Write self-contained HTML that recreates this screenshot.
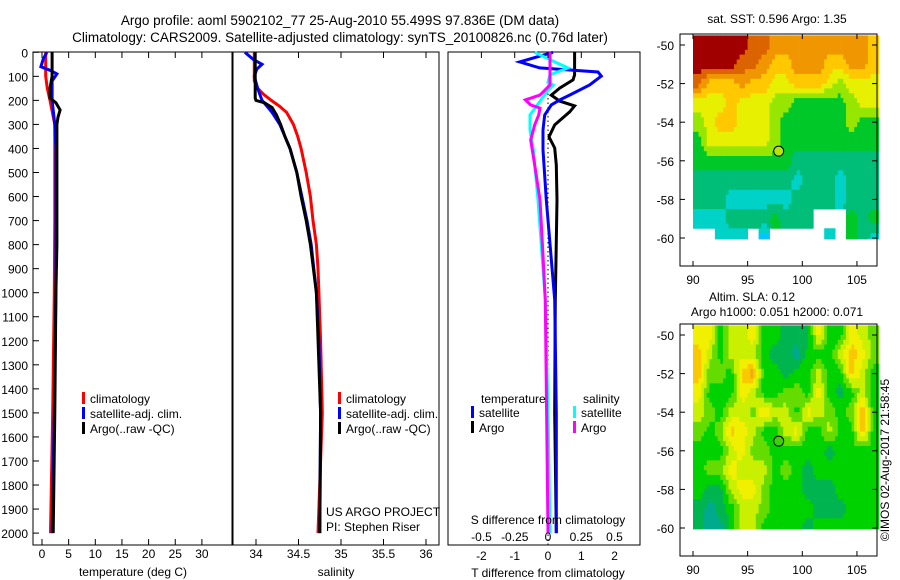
<!DOCTYPE html>
<html><head><meta charset="utf-8"><style>
body{margin:0;background:#fff}
svg{display:block;font-family:"Liberation Sans",sans-serif}
</style></head><body>
<svg id="c" width="900" height="580" viewBox="0 0 900 580" xmlns="http://www.w3.org/2000/svg">
<text x="340" y="25" font-size="13.5" text-anchor="middle">Argo profile: aoml 5902102_77 25-Aug-2010 55.499S 97.836E (DM data)</text>
<text x="340" y="42" font-size="13.5" text-anchor="middle">Climatology: CARS2009. Satellite-adjusted climatology: synTS_20100826.nc (0.76d later)</text>
<g id="g"></g>
</svg>
<script>
// ---- Temperature panel data (deg C) ----
const tClimDepth=[0,100,150,200,300,400,700,1000,1500,2000];
const tClim=[0.7,0.7,1.0,1.5,2.4,2.4,2.4,2.3,2.0,1.6];
const tSatDepth=[0,30,60,75,90,120,200,260,300,400,1000,1500,2000];
const tSat=[0.9,0.2,-0.2,1.5,2.8,1.9,1.9,2.2,2.4,2.6,2.6,2.3,1.9];
const tArgoDepth=[0,100,150,190,210,240,270,300,400,800,1000,1500,2000];
const tArgo=[1.9,1.9,1.5,1.5,2.6,3.4,3.0,2.8,2.8,2.8,2.6,2.4,2.1];
// ---- Salinity panel data ----
const sClimDepth=[0,120,150,175,200,225,250,300,350,400,500,600,700,800,900,1000,1200,1500,2000];
const sClim=[33.98,33.98,34.02,34.09,34.18,34.28,34.36,34.44,34.49,34.53,34.59,34.64,34.67,34.71,34.73,34.74,34.76,34.78,34.73];
const sSatDepth=[0,30,50,70,100,150,200,225,250,300,350,400,500,600,700,800,900,1000,1200,1500,2000];
const sSat=[33.87,33.97,34.07,34.01,33.98,34.02,34.07,34.13,34.19,34.28,34.34,34.40,34.48,34.54,34.60,34.65,34.68,34.71,34.74,34.76,34.75];
const sArgoDepth=[0,190,200,210,230,260,300,350,400,500,600,700,800,1000,1500,2000];
const sArgo=[33.99,33.99,34.00,34.10,34.19,34.24,34.29,34.34,34.40,34.48,34.53,34.59,34.64,34.71,34.76,34.75];
// ---- Difference panel data ----
const dTSatDepth=[0,40,65,82,99,136,178,198,219,261,323,406,614,1030,1500,2000];
const dTSat=[0.15,-0.85,-0.25,1.5,1.6,1.25,0.65,0.35,0.1,-0.1,-0.15,-0.15,-0.05,0.2,0.25,0.25];
const dTArgoDepth=[0,94,115,149,178,203,223,248,302,352,398,469,614,1030,1500,2000];
const dTArgo=[0.8,0.8,0.75,0.35,0.1,0.35,0.8,0.65,0.2,0.03,0.2,0.25,0.27,0.22,0.2,0.25];
const dSSatDepth=[0,40,65,94,124,136,165,219,261,323,406,614,1030,1500,2000];
const dSSat=[-0.1,0.05,0.15,0.015,0,0.04,-0.01,-0.08,-0.135,-0.135,-0.11,-0.075,-0.02,0,0.015];
const dSArgoDepth=[0,136,178,198,219,232,261,302,365,469,614,822,1030,2000];
const dSArgo=[0.015,0.015,-0.06,-0.17,-0.13,-0.06,-0.07,-0.1,-0.13,-0.1,-0.06,-0.04,-0.02,0];
// ---- Tick labels ----
const depthTicks=[0,100,200,300,400,500,600,700,800,900,1000,1100,1200,1300,1400,1500,1600,1700,1800,1900,2000];
const tTicks=[0,5,10,15,20,25,30];
const sTicks=[34,34.5,35,35.5,36];
const sTickLabels=["34","34.5","35","35.5","36"];
const dTTicks=[-2,-1,0,1,2];
const dSTicks=[-0.5,-0.25,0,0.25,0.5];
const dSTickLabels=["-0.5","-0.25","0","0.25","0.5"];
const lonTicks=[90,95,100,105];
const latTicks=[-50,-52,-54,-56,-58,-60];
// ---- Map grids (lon 90..106, lat rows -49.5 downward by 1 deg) ----
const sstRows=["99999887777777776","99998876677766776","86667665566654555","55565554433333455","45665554333333433","35555554333333333","33333333322222222","22222222212221222","22211111122221222","11122223222...323","..111.0.....1.321"];
const slaRows=["55244522111522543","64244421102224653","63326722122422642","52225422332521242","43244364425432372","32365422452242262","22245332222212222","23354442321222222","21145532221112222","10124432222111222","10024422221222222"];
const sstColors=["#00c8ff","#00d2c8","#00be78","#00c828","#96e600","#e6f000","#ffc800","#f09600","#dc6400","#a00000"];
const slaColors=["#00aa8c","#00b450","#00d200","#64dc00","#c8f000","#f0f000","#fac800","#f0aa14"];

const NS="http://www.w3.org/2000/svg";
const G=document.getElementById('g');
function el(t,a,p){const e=document.createElementNS(NS,t);for(const k in a)e.setAttribute(k,a[k]);(p||G).appendChild(e);return e;}
function txt(x,y,s,anchor,size){const e=el('text',{x:x,y:y,'font-size':size||12,'text-anchor':anchor||'middle'});e.textContent=s;return e;}
const Y=d=>52.3+d*0.2404;
const xT=v=>42+5.33*v, xS=v=>256+85*(v-34), xDT=v=>548+33.3*v, xDS=v=>548+133*v;
function line(depths,vals,fx,color,name,w){
  const p=el('polyline',{points:depths.map((d,i)=>fx(vals[i]).toFixed(1)+','+Y(d).toFixed(1)).join(' '),fill:'none',stroke:color,'stroke-width':w||3});
  
  
}
function frame(x0,x1,name){
  const r=el('rect',{x:x0,y:52,width:x1-x0,height:493,fill:'none',stroke:'#000','stroke-width':1});
  
  
}
// Panel 1
frame(33,232,'temperature-panel');
depthTicks.forEach(d=>{el('line',{x1:33,x2:39,y1:Y(d),y2:Y(d),stroke:'#000'});
  const t=txt(28,Y(d)+5,String(d),'end');
  
  });
tTicks.forEach(v=>{el('line',{x1:xT(v),x2:xT(v),y1:545,y2:539,stroke:'#000'});el('line',{x1:xT(v),x2:xT(v),y1:52,y2:58,stroke:'#000'});
  const t=txt(xT(v),558,String(v));
  
  });
let t1=txt(133,576,'temperature (deg C)');


line(tClimDepth,tClim,xT,'#ff0000','temp-climatology-line');
line(tSatDepth,tSat,xT,'#0000ff','temp-satellite-line');
line(tArgoDepth,tArgo,xT,'#000000','temp-argo-line');
function legend(x,y,items,name){items.forEach((it,i)=>{
  el('rect',{x:x,y:y+i*15-11,width:3,height:12,fill:it[0]});
  const t=txt(x+8,y+i*15,it[1],'start');
  
  });}
legend(82,403,[['#ff0000','climatology'],['#0000ff','satellite-adj. clim.'],['#000','Argo(..raw -QC)']],'temp-legend-entry');
// Panel 2
frame(233,439,'salinity-panel');
sTicks.forEach((v,i)=>{el('line',{x1:xS(v),x2:xS(v),y1:545,y2:539,stroke:'#000'});el('line',{x1:xS(v),x2:xS(v),y1:52,y2:58,stroke:'#000'});
  const t=txt(xS(v),558,sTickLabels[i]);
  
  });
let t2=txt(336,576,'salinity');


line(sClimDepth,sClim,xS,'#ff0000','sal-climatology-line');
line(sSatDepth,sSat,xS,'#0000ff','sal-satellite-line');
line(sArgoDepth,sArgo,xS,'#000000','sal-argo-line');
legend(338,403,[['#ff0000','climatology'],['#0000ff','satellite-adj. clim.'],['#000','Argo(..raw -QC)']],'sal-legend-entry');
let c1=txt(326,516,'US ARGO PROJECT','start');
let c2=txt(326,531,'PI: Stephen Riser','start');
// Panel 3
frame(448,640,'difference-panel');
el('line',{x1:548,x2:548,y1:80,y2:545,stroke:'#000','stroke-dasharray':'1.5,3'});
line(dTArgoDepth,dTArgo,xDT,'#000000','t-diff-argo-line');
line(dTSatDepth,dTSat,xDT,'#0000ff','t-diff-satellite-line');
line(dSSatDepth,dSSat,xDS,'#00ffff','s-diff-satellite-line');
line(dSArgoDepth,dSArgo,xDS,'#ff00ff','s-diff-argo-line');
dTTicks.forEach(v=>{el('line',{x1:xDT(v),x2:xDT(v),y1:52,y2:58,stroke:'#000'});
  const t=txt(xDT(v),560,String(v));
  
  });
dSTicks.forEach((v,i)=>{const t=txt(xDS(v),541,dSTickLabels[i]);
  
  });
let t3=txt(548,524,'S difference from climatology');
let t4=txt(548,577,'T difference from climatology');
let l1=txt(481,403,'temperature','start');
let l2=txt(583,403,'salinity','start');
legend(471,417,[['#0000ff','satellite'],['#000','Argo']],'t-diff-legend-entry');
legend(573,417,[['#00ffff','satellite'],['#ff00ff','Argo']],'s-diff-legend-entry');
// Maps
const lonX=l=>693+(l-90)*10.93;
function val(rows,i,j){i=Math.max(0,Math.min(rows.length-1,i));j=Math.max(0,Math.min(rows[0].length-1,j));const c=rows[i][j];return c==='.'?null:+c;}
function map(rows,colors,top,lat50,name,dotColor){
  const latY=l=>lat50+(-50-l)*19.3;
  const SUB=4;
  rows.forEach((r,i)=>{for(let j=0;j<r.length;j++){if(r[j]==='.')continue;
    for(let a=0;a<SUB;a++)for(let b=0;b<SUB;b++){
      const fi=i+(a+0.5)/SUB-0.5, fj=j+(b+0.5)/SUB-0.5;
      const i0=Math.floor(fi), j0=Math.floor(fj), di=fi-i0, dj=fj-j0;
      const base=+r[j];
      const g=(ii,jj)=>{const v=val(rows,ii,jj);return v===null?base:v;};
      const v=g(i0,j0)*(1-di)*(1-dj)+g(i0+1,j0)*di*(1-dj)+g(i0,j0+1)*(1-di)*dj+g(i0+1,j0+1)*di*dj;
      const latT=-49.5-i-a/SUB, latB=-49.5-i-(a+1)/SUB;
      if(latT<=-60.05)continue;
      const y0=latY(latT), y1=latY(Math.max(latB,-60.05));
      const x0=lonX(90+j+b/SUB);
      const c=el('rect',{x:x0.toFixed(1),y:y0.toFixed(1),width:(10.93/SUB+0.4).toFixed(2),height:(y1-y0+0.4).toFixed(2),fill:colors[Math.round(v)]});
      
      
    }}});
  const f=el('rect',{x:680,y:top,width:197,height:232,fill:'none',stroke:'#000'});
  
  
  latTicks.forEach(l=>{el('line',{x1:680,x2:685,y1:latY(l),y2:latY(l),stroke:'#000'});el('line',{x1:877,x2:872,y1:latY(l),y2:latY(l),stroke:'#000'});
    const t=txt(674,latY(l)+5,String(l),'end');
    
    });
  lonTicks.forEach(l=>{el('line',{x1:lonX(l),x2:lonX(l),y1:top+232,y2:top+227,stroke:'#000'});el('line',{x1:lonX(l),x2:lonX(l),y1:top,y2:top+5,stroke:'#000'});
    const t=txt(lonX(l),top+250,String(l));
    
    });
  const d=el('circle',{cx:lonX(97.84),cy:latY(-55.5),r:5,fill:dotColor,stroke:'#000'});
  
  
}
map(sstRows,sstColors,34,45,'sst-map','#b4e600');
map(slaRows,slaColors,324,335,'sla-map','#3cd200');
let m1=txt(777,23,'sat. SST: 0.596 Argo: 1.35');
let m2=txt(752,301,'Altim. SLA: 0.12');
let m3=txt(777,316,'Argo h1000: 0.051 h2000: 0.071');
let cp=txt(0,0,'©IMOS 02-Aug-2017 21:58:45');cp.setAttribute('transform','translate(889,460) rotate(-90)');


</script>
</body></html>
